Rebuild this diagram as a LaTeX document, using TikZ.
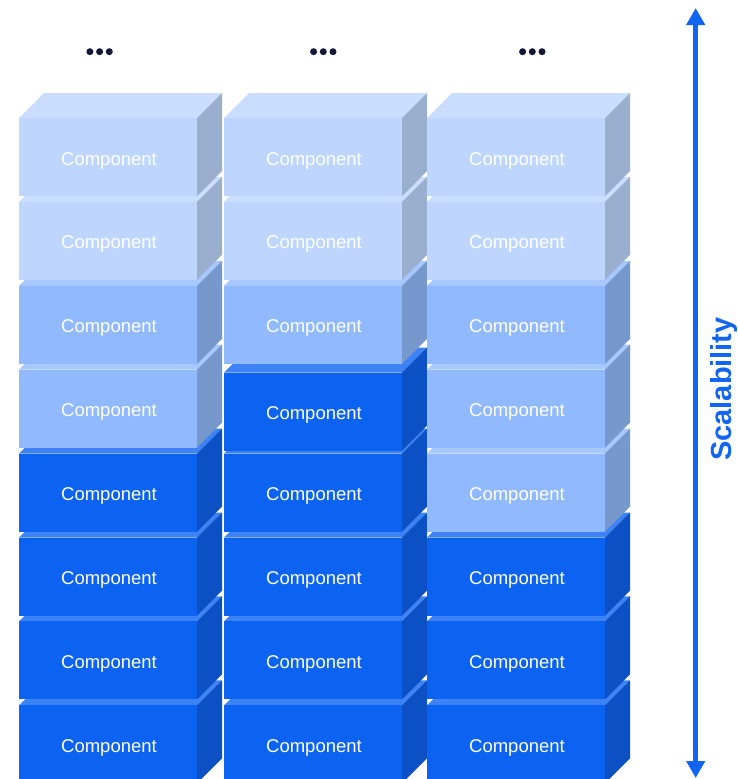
\documentclass[tikz,border=0pt]{standalone}
\usepackage{fontspec}
\setmainfont{Liberation Sans}
\usetikzlibrary{arrows.meta}

\definecolor{ltfront}{HTML}{BED6FD}
\definecolor{lttop}{HTML}{C9DDFE}
\definecolor{ltside}{HTML}{9AAFCD}
\definecolor{mdfront}{HTML}{90BAFD}
\definecolor{mdtop}{HTML}{A6C8FE}
\definecolor{mdside}{HTML}{7698CC}
\definecolor{dkfront}{HTML}{0C63F2}
\definecolor{dktop}{HTML}{3E83F5}
\definecolor{dkside}{HTML}{0B50C4}
\definecolor{dotnavy}{HTML}{13173A}
\definecolor{scaleblue}{HTML}{1265F0}

% one stacked block: x, top of front face, colour prefix, node name
\newcommand{\compbox}[4]{%
	\fill[#3top] (#1,#2) -- ++(25,-25) -- ++(178,0) -- ++(-25,25) -- cycle;
	\fill[#3side] (#1+178,#2) -- ++(25,-25) -- ++(0,78) -- ++(-25,25) -- cycle;
	\fill[#3front] (#1,#2) rectangle ++(178,78);
	\node[comptext] (#4) at (#1+90,#2+42.5) {Component};
}

\begin{document}
\begin{tikzpicture}[x=1pt,y=-1pt,
		comptext/.style={text=white,font=\fontsize{18.5}{21}\selectfont,inner sep=0pt},
		scaletext/.style={text=scaleblue,font=\fontsize{29}{32}\selectfont\bfseries,rotate=90,inner sep=0pt},
		scalearrow/.style={draw=scaleblue,line width=5pt,{Triangle[length=17pt,width=18pt]}-{Triangle[length=17pt,width=18pt]}}]
	
	\useasboundingbox (0,0) rectangle (737,779);
	\clip (0,0) rectangle (737,779);
	
	% stacks, drawn from the bottom row up
	\foreach \row/\ca/\cb/\cc/\sh in {7/dk/dk/dk/0,6/dk/dk/dk/0,5/dk/dk/dk/0,4/dk/dk/md/0,
			3/md/dk/md/3,2/md/md/md/0,1/lt/lt/lt/0,0/lt/lt/lt/0}{
		\pgfmathsetmacro{\yt}{118+83.9*\row}
		\pgfmathsetmacro{\ytb}{\yt+\sh}
		\compbox{19}{\yt}{\ca}{comp-a-\row}
		\compbox{224}{\ytb}{\cb}{comp-b-\row}
		\compbox{427}{\yt}{\cc}{comp-c-\row}
	}
	
	% more blocks above
	\foreach \cx in {99.6,323.3,532.3}{
		\fill[dotnavy] (\cx-9.7,51.7) circle (3.5) (\cx,51.7) circle (3.5) (\cx+9.7,51.7) circle (3.5);
	}
	
	\coordinate (scaletop) at (695.7,8);
	\coordinate (scalebot) at (695.7,778);
	\draw[scalearrow] (scalebot) -- (scaletop);
	\node[scaletext] (scale) at (724,389) {Scalability};
	
\end{tikzpicture}
\end{document}
